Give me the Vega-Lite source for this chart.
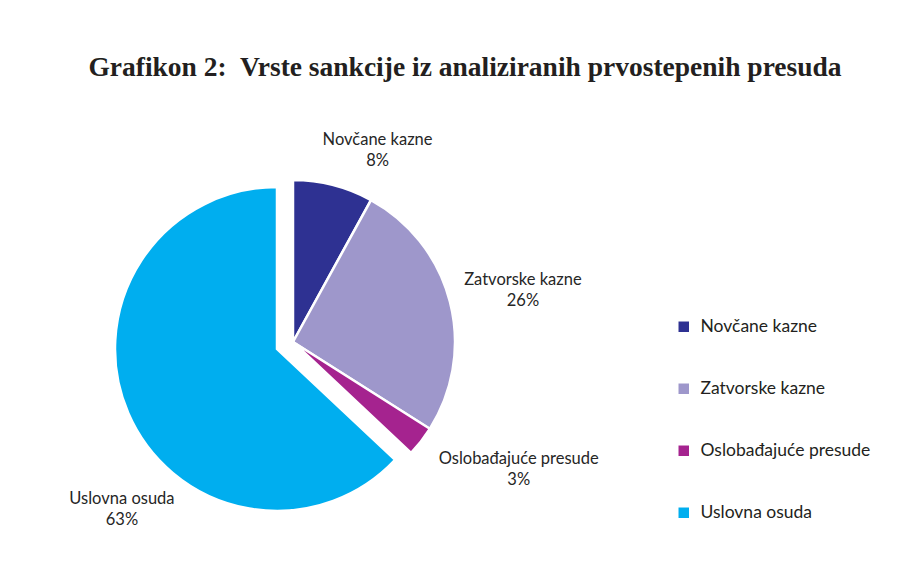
{
  "$schema": "https://vega.github.io/schema/vega-lite/v6.json",
  "width": 340,
  "height": 340,
  "autosize": {"type": "none"},
  "padding": {"left": 123, "top": 172, "right": 446, "bottom": 51},
  "background": "white",
  "title": {
    "text": "Grafikon 2:\u00a0 Vrste sankcije iz analiziranih prvostepenih presuda",
    "font": "Liberation Serif",
    "fontSize": 27.5,
    "fontWeight": "bold",
    "color": "#231F20",
    "anchor": "middle",
    "dx": 172,
    "offset": -12
  },
  "config": {"view": {"stroke": null}},
  "data": {
    "values": [
      {"category": "Novčane kazne", "value": 8},
      {"category": "Zatvorske kazne", "value": 26},
      {"category": "Oslobađajuće presude", "value": 3},
      {"category": "Uslovna osuda", "value": 63}
    ]
  },
  "transform": [
    {"window": [{"op": "row_number", "as": "ord"}]},
    {"calculate": "datum.category + '\\n' + datum.value + '%'", "as": "label"}
  ],
  "encoding": {
    "theta": {"field": "value", "type": "quantitative", "stack": true},
    "order": {"field": "ord", "type": "quantitative"}
  },
  "layer": [
    {
      "mark": {"type": "arc", "outerRadius": 162, "stroke": "white", "strokeWidth": 2.5},
      "encoding": {
        "color": {
          "field": "category",
          "type": "nominal",
          "scale": {
            "domain": ["Novčane kazne", "Zatvorske kazne", "Oslobađajuće presude", "Uslovna osuda"],
            "range": ["#2E3192", "#9E97CB", "#A5238F", "#00AEEF"]
          },
          "legend": {
            "title": null,
            "orient": "none",
            "legendX": 552,
            "legendY": 146,
            "symbolType": "square",
            "symbolSize": 110,
            "symbolStrokeWidth": 0,
            "labelFont": "Lato",
            "labelFontSize": 17.5,
            "labelColor": "#231F20",
            "labelOffset": 8,
            "labelLimit": 400,
            "rowPadding": 43
          }
        },
        "opacity": {"condition": {"test": "datum.category === 'Uslovna osuda'", "value": 0}, "value": 1}
      }
    },
    {
      "mark": {"type": "arc", "outerRadius": 162, "stroke": "white", "strokeWidth": 2.5, "xOffset": -16, "yOffset": 7},
      "encoding": {
        "color": {"field": "category", "type": "nominal"},
        "opacity": {"condition": {"test": "datum.category === 'Uslovna osuda'", "value": 1}, "value": 0}
      }
    },
    {
      "mark": {"type": "text", "radius": 211, "thetaOffset": 0.161, "dy": -9, "font": "Lato", "fontSize": 16.5, "lineBreak": "\n", "lineHeight": 21, "align": "center", "baseline": "middle", "color": "#262626"},
      "encoding": {
        "text": {"field": "label"},
        "opacity": {"condition": {"test": "datum.category === 'Novčane kazne'", "value": 1}, "value": 0}
      }
    },
    {
      "mark": {"type": "text", "radius": 236, "thetaOffset": 0.024, "dy": -9, "font": "Lato", "fontSize": 16.5, "lineBreak": "\n", "lineHeight": 21, "align": "center", "baseline": "middle", "color": "#262626"},
      "encoding": {
        "text": {"field": "label"},
        "opacity": {"condition": {"test": "datum.category === 'Zatvorske kazne'", "value": 1}, "value": 0}
      }
    },
    {
      "mark": {"type": "text", "radius": 258, "thetaOffset": -0.154, "dy": -8, "font": "Lato", "fontSize": 16.5, "lineBreak": "\n", "lineHeight": 21, "align": "center", "baseline": "middle", "color": "#262626"},
      "encoding": {
        "text": {"field": "label"},
        "opacity": {"condition": {"test": "datum.category === 'Oslobađajuće presude'", "value": 1}, "value": 0}
      }
    },
    {
      "mark": {"type": "text", "radius": 237, "thetaOffset": -0.356, "dy": -7, "font": "Lato", "fontSize": 16.5, "lineBreak": "\n", "lineHeight": 21, "align": "center", "baseline": "middle", "color": "#262626"},
      "encoding": {
        "text": {"field": "label"},
        "opacity": {"condition": {"test": "datum.category === 'Uslovna osuda'", "value": 1}, "value": 0}
      }
    }
  ]
}
